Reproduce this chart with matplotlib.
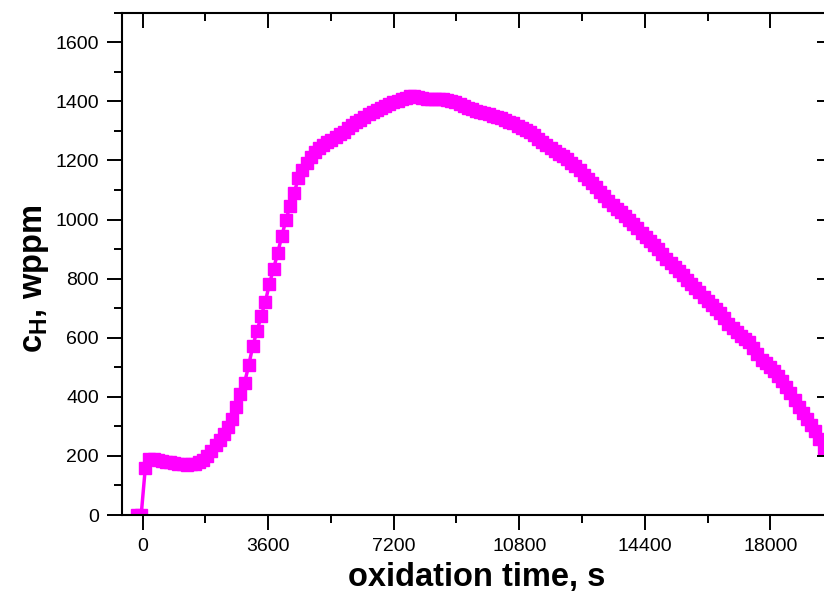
import numpy as np
import matplotlib
matplotlib.use('Agg')
import matplotlib.pyplot as plt
from matplotlib.ticker import MultipleLocator

plt.rcParams['font.family'] = ['Liberation Sans', 'DejaVu Sans']
plt.rcParams['mathtext.fontset'] = 'custom'
plt.rcParams['mathtext.rm'] = 'Liberation Sans'
plt.rcParams['mathtext.bf'] = 'Liberation Sans:bold'

# hydrogen content, wppm, sampled about every 119 s from t = -160 s
t_start, t_step = -160, 118.6
c_h = [
    0, 0, 160, 190, 188, 186, 183, 181, 178, 176,
    173, 171, 170, 171, 172, 178, 186, 200, 218, 236,
    254, 275, 298, 325, 366, 410, 448, 506, 573, 622,
    673, 720, 782, 833, 886, 944, 998, 1047, 1090, 1140,
    1167, 1190, 1210, 1228, 1242, 1253, 1261, 1270, 1280, 1289,
    1297, 1310, 1320, 1329, 1338, 1347, 1356, 1363, 1370, 1377,
    1385, 1392, 1398, 1402, 1407, 1412, 1417, 1418, 1415, 1412,
    1409, 1408, 1408, 1407, 1407, 1404, 1401, 1397, 1392, 1385,
    1378, 1373, 1368, 1364, 1360, 1356, 1352, 1347, 1342, 1337,
    1331, 1325, 1318, 1311, 1303, 1295, 1286, 1274, 1262, 1252,
    1242, 1232, 1223, 1214, 1204, 1192, 1181, 1166, 1152, 1138,
    1124, 1110, 1094, 1078, 1063, 1049, 1036, 1024, 1012, 998,
    984, 970, 956, 942, 928, 914, 900, 884, 867, 853,
    839, 825, 811, 797, 783, 769, 755, 739, 723, 710,
    698, 684, 666, 648, 633, 619, 606, 595, 584, 565,
    545, 526, 514, 502, 486, 470, 454, 433, 412, 390,
    367, 345, 325, 305, 285, 258, 225,
]
times = t_start + t_step * np.arange(len(c_h))

x_ticks = [0, 3600, 7200, 10800, 14400, 18000]
y_ticks = [0, 200, 400, 600, 800, 1000, 1200, 1400, 1600]
xlim = (-600, 19770)
ylim = (0, 1700)

fig = plt.figure(figsize=(8.24, 5.96), dpi=100)
# right edge of the frame lies just past the image border, as in the original
ax = fig.add_axes([0.1477, 0.1359, 0.862, 0.8428])

ax.plot(times, c_h, color='#ff00ff', lw=2.5, marker='s', ms=9,
        mew=1, mec='#ff00ff', mfc='#ff00ff')

ax.set_xlim(xlim)
ax.set_ylim(ylim)
ax.set_xticks(x_ticks)
ax.set_yticks(y_ticks)
ax.xaxis.set_minor_locator(MultipleLocator(1800))
ax.yaxis.set_minor_locator(MultipleLocator(100))

for s in ax.spines.values():
    s.set_linewidth(1.5)
ax.spines['right'].set_visible(False)

ax.tick_params(which='major', direction='out', length=10.5, width=1.4,
               labelsize=14, pad=6)
ax.tick_params(which='minor', direction='out', length=5.5, width=1.4)

# inward ticks on top and right, drawn by twin axes with hidden frames
ax_top = ax.twiny()
ax_top.set_xlim(xlim)
ax_top.set_xticks(x_ticks)
ax_top.xaxis.set_minor_locator(MultipleLocator(1800))
ax_right = ax.twinx()
ax_right.set_ylim(ylim)
ax_right.set_yticks(y_ticks)
ax_right.yaxis.set_minor_locator(MultipleLocator(100))
for tw in (ax_top, ax_right):
    for s in tw.spines.values():
        s.set_visible(False)
    tw.tick_params(which='both', direction='in', width=1.4,
                   labeltop=False, labelright=False)
    tw.tick_params(which='major', length=10.5)
    tw.tick_params(which='minor', length=5.5)

ax.set_xlabel('oxidation time, s', fontsize=23.5, fontweight='bold', labelpad=5)
ax.set_ylabel(r'$\mathbf{c}_{\mathbf{H}}$, wppm', fontsize=23.5, fontweight='bold')
ax.yaxis.set_label_coords(-0.1, 0.47)

fig.savefig('out.png', dpi=100)
